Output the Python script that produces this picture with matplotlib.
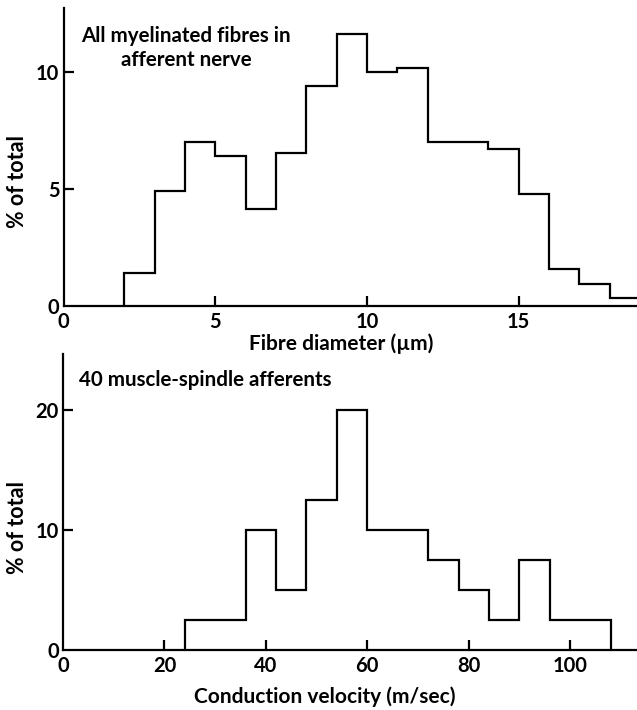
import matplotlib
matplotlib.use("Agg")
import matplotlib.pyplot as plt

plt.rcParams['font.family'] = ['Lato', 'DejaVu Sans']
plt.rcParams['font.weight'] = 'bold'

# Top panel: fibre diameter distribution (µm bins, % of total)
diam_edges = [2, 3, 4, 5, 6, 7, 8, 9, 10, 11, 12, 13, 14, 15, 16, 17, 18, 19]
diam_pct = [1.4, 4.9, 7.0, 6.4, 4.15, 6.55, 9.4, 11.65, 10.03, 10.2,
            7.03, 7.03, 6.7, 4.8, 1.6, 0.95, 0.33]
diam_xticks = [0, 5, 10, 15]
diam_yticks = [0, 5, 10]

# Bottom panel: conduction velocity distribution (m/sec bins, % of total)
vel_edges = [24, 36, 42, 48, 54, 60, 72, 78, 84, 90, 96, 108]
vel_pct = [2.5, 10, 5, 12.5, 20, 10, 7.5, 5, 2.5, 7.5, 2.5]
vel_xticks = [0, 20, 40, 60, 80, 100]
vel_yticks = [0, 10, 20]

W, H = 637, 710
fig = plt.figure(figsize=(W / 100, H / 100), dpi=100)

def axes_px(left, top, right, bottom):
    return fig.add_axes([left / W, 1 - bottom / H, (right - left) / W, (bottom - top) / H])

lw = 1.6
tick_fs = 14.5
label_fs = 15
note_fs = 14.8
ylab_fs = 15.5

def style(ax, xticks, yticks):
    for s in ['top', 'right']:
        ax.spines[s].set_visible(False)
    for s in ['left', 'bottom']:
        ax.spines[s].set_linewidth(lw)
        ax.spines[s].set_color('black')
    ax.set_xticks(xticks)
    ax.set_yticks(yticks)
    ax.tick_params(direction='in', length=7, width=lw, labelsize=tick_fs)
    ax.tick_params(axis='x', pad=4)
    ax.tick_params(axis='y', pad=3)
    for lab in ax.get_xticklabels() + ax.get_yticklabels():
        lab.set_fontweight('bold')
    ax.xaxis.get_major_ticks()[0].tick1line.set_visible(False)
    ax.yaxis.get_major_ticks()[0].tick1line.set_visible(False)

def place_labels(ax, xl_x, xl_y, yl_x, yl_y):
    ax.xaxis.set_label_coords(xl_x, xl_y)
    ax.xaxis.label.set_va('top')
    ax.yaxis.set_label_coords(yl_x, yl_y)
    ax.yaxis.label.set_va('center')

# Top axes
ax1 = axes_px(63.5, 8, 637, 306)
ax1.stairs(diam_pct, diam_edges, color='black', linewidth=lw, baseline=0)
ax1.set_xlim(0, 18.9)
ax1.set_ylim(0, 12.75)
style(ax1, diam_xticks, diam_yticks)
ax1.set_ylabel('% of total', fontsize=ylab_fs, fontweight='bold')
ax1.set_xlabel('Fibre diameter (µm)', fontsize=label_fs, fontweight='bold')
place_labels(ax1, (341 - 63.5) / 573.5, -(333 - 306) / 298,
             (18 - 63.5) / 573.5, (306 - 182) / 298)
fig.text(186 / W, 1 - 48 / H, 'All myelinated fibres in\nafferent nerve',
         fontsize=note_fs, fontweight='bold', ha='center', va='center', linespacing=1.2)

# Bottom axes
ax2 = axes_px(63, 354, 637, 650)
ax2.stairs(vel_pct, vel_edges, color='black', linewidth=lw, baseline=0)
ax2.set_xlim(0, 113.2)
ax2.set_ylim(0, 24.7)
style(ax2, vel_xticks, vel_yticks)
ax2.set_ylabel('% of total', fontsize=ylab_fs, fontweight='bold')
ax2.set_xlabel('Conduction velocity (m/sec)', fontsize=label_fs, fontweight='bold')
place_labels(ax2, (325 - 63) / 574, -(686 - 650) / 296,
             (18 - 63) / 574, (650 - 527) / 296)
fig.text(79 / W, 1 - 380 / H, '40 muscle-spindle afferents',
         fontsize=note_fs, fontweight='bold', ha='left', va='center')

fig.savefig('out.png', dpi=100)
